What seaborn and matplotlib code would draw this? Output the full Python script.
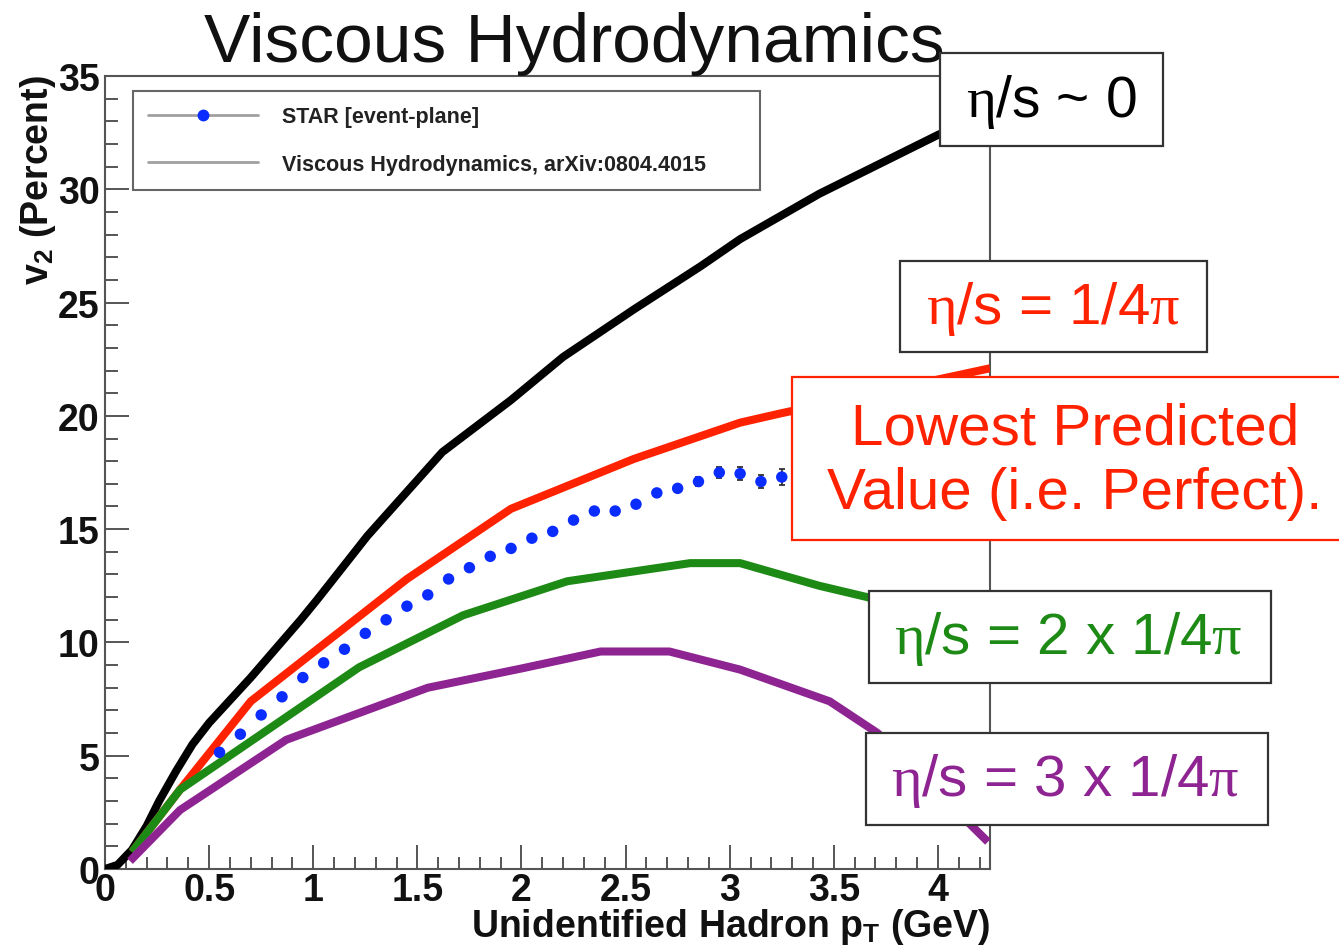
import numpy as np
import pandas as pd
import matplotlib
matplotlib.use("Agg")
import matplotlib.pyplot as plt
from matplotlib.patches import Rectangle
from matplotlib.lines import Line2D
from matplotlib.ticker import MultipleLocator, FuncFormatter
import seaborn as sns

# ---- data -------------------------------------------------------------
# Viscous hydro curves, v2 (percent) vs pT (GeV)
ideal_pt = [0.0, 0.06, 0.13, 0.2, 0.26, 0.34, 0.42, 0.5, 0.6, 0.70, 0.94,
            1.02, 1.26, 1.62, 1.95, 2.20, 2.54, 2.86, 3.05, 3.43, 4.0, 4.25]
ideal_v2 = [0.0, 0.18, 0.85, 1.9, 3.0, 4.3, 5.5, 6.45, 7.45, 8.45, 11.0,
            11.9, 14.7, 18.4, 20.7, 22.6, 24.7, 26.6, 27.8, 29.8, 32.4, 33.4]

visc1_pt = [0.13, 0.36, 0.70, 1.45, 1.95, 2.54, 3.05, 3.24, 4.25]
visc1_v2 = [0.75, 3.5, 7.4, 12.8, 15.9, 18.1, 19.7, 20.1, 22.1]

visc2_pt = [0.13, 0.36, 1.22, 1.72, 2.22, 2.81, 3.05, 3.43, 3.66, 4.25]
visc2_v2 = [0.75, 3.5, 8.9, 11.2, 12.7, 13.5, 13.5, 12.5, 12.0, 10.3]

visc3_pt = [0.12, 0.36, 0.87, 1.55, 2.0, 2.38, 2.71, 3.05, 3.48, 3.71, 4.24]
visc3_v2 = [0.35, 2.6, 5.7, 8.0, 8.85, 9.6, 9.6, 8.8, 7.4, 6.0, 1.2]

# STAR event-plane v2 for unidentified hadrons
star_pt = [0.55, 0.65, 0.75, 0.85, 0.95, 1.05, 1.15, 1.25, 1.35, 1.45, 1.55,
           1.65, 1.75, 1.85, 1.95, 2.05, 2.15, 2.25, 2.35, 2.45, 2.55, 2.65,
           2.75, 2.85, 2.95, 3.05, 3.15, 3.25]
star_v2 = [5.15, 5.95, 6.8, 7.6, 8.45, 9.1, 9.7, 10.4, 11.0, 11.6, 12.1,
           12.8, 13.3, 13.8, 14.15, 14.6, 14.9, 15.4, 15.8, 15.8, 16.1, 16.6,
           16.8, 17.1, 17.5, 17.45, 17.1, 17.3]
star_err = [0.05, 0.05, 0.05, 0.05, 0.05, 0.05, 0.05, 0.06, 0.06, 0.06, 0.07,
            0.07, 0.08, 0.08, 0.09, 0.1, 0.1, 0.11, 0.12, 0.13, 0.14, 0.15,
            0.17, 0.2, 0.25, 0.28, 0.3, 0.35]

legend_labels = ["STAR [event-plane]", "Viscous Hydrodynamics, arXiv:0804.4015"]

box_labels = [r"$\eta$/s ~ 0",
              r"$\eta$/s = 1/4$\pi$",
              "Lowest Predicted\nValue (i.e. Perfect).",
              r"$\eta$/s = 2 x 1/4$\pi$",
              r"$\eta$/s = 3 x 1/4$\pi$"]

# ---- style ------------------------------------------------------------
sns.set_theme(style="white")
plt.rcParams["font.family"] = ["Liberation Sans", "DejaVu Sans"]
plt.rcParams["mathtext.fontset"] = "custom"
plt.rcParams["mathtext.rm"] = "Liberation Sans"
plt.rcParams["mathtext.it"] = "Liberation Serif"
plt.rcParams["mathtext.bf"] = "Liberation Sans:bold"

BLACK = "#000000"
RED = "#ff2200"
GREEN = "#1e8a16"
PURPLE = "#8e2392"
BLUE = "#0a2cff"
FRAME = "#555555"

W, H = 1339, 953
fig = plt.figure(figsize=(W / 100, H / 100), dpi=100)
ax = fig.add_axes([105 / W, 1 - 870 / H, (990 - 105) / W, (870 - 77) / H])

curves = [(ideal_pt, ideal_v2, BLACK), (visc1_pt, visc1_v2, RED),
          (visc2_pt, visc2_v2, GREEN), (visc3_pt, visc3_v2, PURPLE)]
for pt, v2, col in curves:
    df = pd.DataFrame({"pt": pt, "v2": v2})
    sns.lineplot(data=df, x="pt", y="v2", color=col, lw=5.8, sort=False,
                 estimator=None, ax=ax, solid_capstyle="butt",
                 solid_joinstyle="round", zorder=3)

ax.errorbar(star_pt, star_v2, yerr=star_err, fmt="none", ecolor="#333333",
            elinewidth=1.3, capsize=2.5, capthick=1.3, zorder=4)
sns.scatterplot(x=star_pt, y=star_v2, color=BLUE, s=68, edgecolor="none",
                ax=ax, zorder=5)

ax.set_xlim(0, 4.25)
ax.set_ylim(0, 35)
ax.set_xlabel("")
ax.set_ylabel("")

ax.xaxis.set_major_locator(MultipleLocator(0.5))
ax.xaxis.set_minor_locator(MultipleLocator(0.1))
ax.yaxis.set_major_locator(MultipleLocator(5))
ax.yaxis.set_minor_locator(MultipleLocator(1))
ax.xaxis.set_major_formatter(FuncFormatter(lambda v, p: f"{v:g}"))
ax.yaxis.set_major_formatter(FuncFormatter(lambda v, p: f"{v:g}"))

for s in ax.spines.values():
    s.set_color(FRAME)
    s.set_linewidth(1.5)
ax.tick_params(which="both", direction="in", color=FRAME, width=1.4,
               top=False, right=False, bottom=True, left=True)
ax.tick_params(which="major", length=17)
ax.tick_params(which="minor", length=9)
ax.tick_params(axis="x", which="major", pad=2)
ax.tick_params(axis="y", which="major", pad=4)
for lab in ax.get_xticklabels() + ax.get_yticklabels():
    lab.set_fontsize(27)
    lab.set_fontweight("bold")
    lab.set_color("#111111")

# legend
handles = [Line2D([], [], color="#a0a0a0", lw=2, marker="o", markersize=7.5,
                  markerfacecolor=BLUE, markeredgecolor=BLUE),
           Line2D([], [], color="#a0a0a0", lw=2)]
leg = ax.legend(handles, legend_labels, loc="upper left",
                bbox_to_anchor=(133 / W, 1 - 186 / H, 627 / W, 94 / H),
                bbox_transform=fig.transFigure, mode="expand", borderaxespad=0,
                prop={"family": "Liberation Sans", "weight": "bold", "size": 15.5},
                handlelength=5.1, handletextpad=1.1, labelspacing=1.25,
                borderpad=0.7, frameon=True, fancybox=False, framealpha=1)
leg.get_frame().set_edgecolor("#666666")
leg.get_frame().set_linewidth(1.5)
for t in leg.get_texts():
    t.set_color("#222222")

# titles and axis labels
fig.text(574 / W, 1 - 62 / H, "Viscous Hydrodynamics", fontsize=50,
         ha="center", va="baseline", color="#111111")
fig.text(38 / W, 1 - 75 / H, r"v$_{\mathbf{2}}$ (Percent)", fontsize=27,
         fontweight="bold", rotation=90, ha="center", va="top", color="#111111")
fig.text(990 / W, 1 - 937 / H, r"Unidentified Hadron p$_{\mathbf{T}}$ (GeV)",
         fontsize=27, fontweight="bold", ha="right", va="baseline",
         color="#111111")

# annotation boxes (pixel geometry in figure space)
boxes = [
    ((940, 54, 1163, 147), "#333333", BLACK, 41, (1051, 102)),
    ((900, 262, 1207, 353), "#333333", RED, 42, (1053, 309)),
    ((792, 378, 1350, 541), RED, RED, 42, (1075, 462)),
    ((869, 592, 1271, 684), "#333333", GREEN, 42, (1068, 639)),
    ((866, 734, 1268, 826), "#333333", PURPLE, 42, (1065, 781)),
]
for ((x0, y0, x1, y1), ec, tc, fs, (cx, cy)), label in zip(boxes, box_labels):
    fig.patches.append(Rectangle((x0 / W, 1 - y1 / H), (x1 - x0) / W,
                                 (y1 - y0) / H, transform=fig.transFigure,
                                 facecolor="white", edgecolor=ec, lw=1.6,
                                 zorder=5))
    fig.text(cx / W, 1 - cy / H, label, fontsize=fs, color=tc, ha="center",
             va="center", linespacing=1.25, zorder=6)

fig.savefig("out.png", dpi=100)
